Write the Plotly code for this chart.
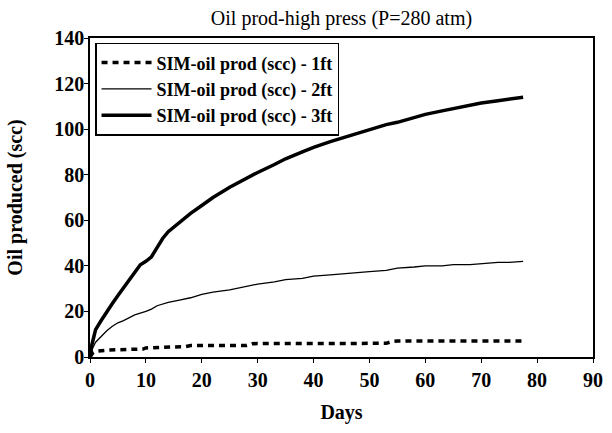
import plotly.graph_objects as go

# Simulated cumulative oil production, high pressure run (P = 280 atm)
days_1ft = [0, 0.5, 1, 2, 3, 5, 8, 9.5, 10, 12, 15, 17, 18, 20, 25, 28, 29, 30, 35, 40, 45,
            50, 53, 54, 55, 60, 65, 70, 75, 77.5]
oil_1ft = [0, 1.8, 2.5, 2.8, 3.0, 3.2, 3.3, 3.5, 4.0, 4.3, 4.4, 4.5, 5.0, 5.0, 5.0, 5.1, 5.8,
           5.9, 5.9, 5.9, 5.9, 6.0, 6.0, 6.8, 7.0, 7.0, 7.0, 7.0, 7.0, 7.0]

days_2ft = [0, 0.5, 1, 2, 3, 4, 5, 6, 8, 10, 11, 12, 14, 16, 18, 20, 22, 25, 28, 30, 33, 35,
            38, 40, 43, 45, 48, 50, 53, 55, 58, 60, 63, 65, 68, 70, 73, 75, 77.5]
oil_2ft = [0, 4, 6.5, 9, 11.5, 13.5, 15, 16, 18.5, 20, 21, 22.5, 24, 25, 26, 27.5, 28.5, 29.5,
           31, 32, 33, 34, 34.5, 35.5, 36, 36.5, 37, 37.5, 38, 39, 39.5, 40, 40, 40.5, 40.5,
           41, 41.5, 41.5, 42]

days_3ft = [0, 0.3, 0.7, 1, 2, 3, 4, 5, 6, 7, 8, 9, 10, 11, 12, 13, 14, 16, 18, 20, 22, 25,
            28, 30, 33, 35, 38, 40, 43, 45, 48, 50, 53, 55, 58, 60, 63, 65, 68, 70, 73, 75, 77.5]
oil_3ft = [0, 5, 9, 12, 16, 20, 23.5, 27, 30.5, 34, 37.5, 40.5, 42, 44, 48, 52, 55, 59, 63,
           66.5, 70, 74.5, 78.5, 81, 84.5, 87, 90, 92, 94.5, 96, 98.5, 100, 102, 103, 105,
           106.5, 108, 109, 110.5, 111.5, 112.5, 113, 114]

series_names = ["SIM-oil prod (scc) - 1ft", "SIM-oil prod (scc) - 2ft", "SIM-oil prod (scc) - 3ft"]

x_ticks = [0, 10, 20, 30, 40, 50, 60, 70, 80, 90]
y_ticks = [0, 20, 40, 60, 80, 100, 120, 140]

SERIF = "Liberation Serif"

fig = go.Figure()
fig.add_trace(go.Scatter(x=days_1ft, y=oil_1ft, mode="lines", name=series_names[0],
                         line=dict(color="black", width=3.5, dash="6px,5px")))
fig.add_trace(go.Scatter(x=days_2ft, y=oil_2ft, mode="lines", name=series_names[1],
                         line=dict(color="black", width=1.3)))
fig.add_trace(go.Scatter(x=days_3ft, y=oil_3ft, mode="lines", name=series_names[2],
                         line=dict(color="black", width=3.5)))

fig.update_layout(
    width=612, height=433,
    margin=dict(l=90, r=19, t=38, b=76),
    paper_bgcolor="white", plot_bgcolor="white",
    font=dict(family=SERIF, color="black"),
    title=dict(text="Oil prod-high press (P=280 atm)", x=0.558, xanchor="center",
               y=0.958, yanchor="middle", font=dict(family=SERIF, size=20, color="black")),
    showlegend=True,
    legend=dict(x=0.01, y=0.985, xanchor="left", yanchor="top",
                bgcolor="white", bordercolor="black", borderwidth=1.5,
                font=dict(family=SERIF, size=18, color="black", weight="bold"),
                itemwidth=50, tracegroupgap=0),
)

fig.update_xaxes(
    range=[0, 90], tickvals=x_ticks, ticktext=[str(v) for v in x_ticks],
    showgrid=False, zeroline=False, automargin=False,
    showline=True, linecolor="black", linewidth=1.5, mirror=True,
    ticks="outside", ticklen=4, tickwidth=1, tickcolor="black",
    tickfont=dict(family=SERIF, size=20, color="black", weight="bold"),
    title=dict(text="Days", font=dict(family=SERIF, size=20, color="black", weight="bold"),
               standoff=15),
)
fig.update_yaxes(
    range=[0, 140], tickvals=y_ticks, ticktext=[str(v) for v in y_ticks],
    showgrid=False, zeroline=False, automargin=False,
    showline=True, linecolor="black", linewidth=1.5, mirror=True,
    ticks="outside", ticklen=4, tickwidth=1, tickcolor="black", ticklabelstandoff=-4,
    tickfont=dict(family=SERIF, size=20, color="black", weight="bold"),
    title=dict(text="Oil produced (scc)", font=dict(family=SERIF, size=20, color="black", weight="bold"),
               standoff=26),
)

fig.write_html("out.html")
